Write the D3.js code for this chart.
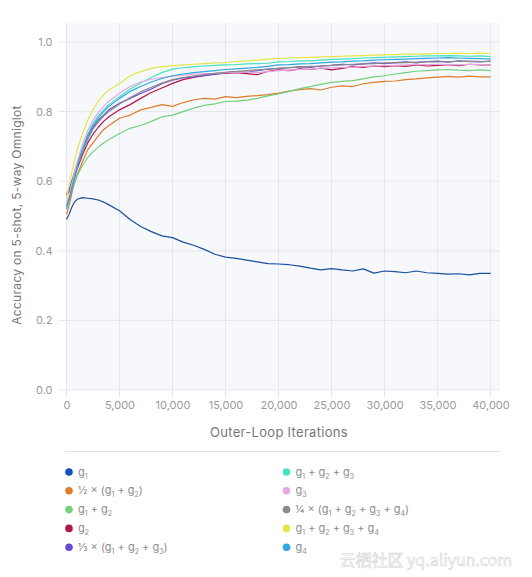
<!DOCTYPE html>
<html>
<head>
<meta charset="utf-8">
<script src="https://cdn.jsdelivr.net/npm/d3@7"></script>
<style>
  body { margin: 0; background: #fff; }
  svg { display: block; font-family: Inter, "Open Sans", sans-serif; }
</style>
</head>
<body>
<svg id="chart" width="532" height="577"></svg>
<script>
// iterations shared by every series
const iterations = [0, 250, 500, 750, 1000, 1500, 2000, 2500, 3000, 3500, 4000,
  5000, 6000, 7000, 8000, 9000, 10000, 11000, 12000, 13000, 14000, 15000, 16000,
  17000, 18000, 19000, 20000, 21000, 22000, 23000, 24000, 25000, 26000, 27000,
  28000, 29000, 30000, 31000, 32000, 33000, 34000, 35000, 36000, 37000, 38000,
  39000, 40000];

const g1 = [0.490, 0.505, 0.525, 0.540, 0.548, 0.553, 0.551, 0.549, 0.546, 0.540, 0.532,
  0.515, 0.490, 0.470, 0.455, 0.443, 0.438, 0.425, 0.416, 0.404, 0.390, 0.382, 0.378,
  0.373, 0.368, 0.363, 0.362, 0.360, 0.356, 0.350, 0.345, 0.349, 0.345, 0.342,
  0.348, 0.336, 0.342, 0.340, 0.337, 0.342, 0.337, 0.335, 0.333, 0.334, 0.331,
  0.335, 0.335];
const halfG12 = [0.505, 0.530, 0.565, 0.595, 0.618, 0.655, 0.690, 0.710, 0.730, 0.748, 0.760,
  0.781, 0.790, 0.805, 0.812, 0.820, 0.815, 0.826, 0.834, 0.838, 0.836, 0.843, 0.840,
  0.844, 0.846, 0.849, 0.853, 0.859, 0.863, 0.866, 0.862, 0.870, 0.874, 0.872,
  0.880, 0.884, 0.887, 0.888, 0.892, 0.894, 0.897, 0.899, 0.901, 0.899, 0.902,
  0.900, 0.900];
const sumG12 = [0.530, 0.550, 0.575, 0.595, 0.615, 0.645, 0.668, 0.685, 0.698, 0.710, 0.720,
  0.737, 0.752, 0.760, 0.772, 0.785, 0.790, 0.800, 0.810, 0.818, 0.822, 0.829, 0.830,
  0.833, 0.838, 0.845, 0.851, 0.858, 0.866, 0.872, 0.878, 0.884, 0.887, 0.889,
  0.894, 0.900, 0.903, 0.908, 0.912, 0.916, 0.918, 0.920, 0.921, 0.919, 0.918,
  0.920, 0.918];
const g2 = [0.565, 0.570, 0.585, 0.610, 0.635, 0.675, 0.710, 0.735, 0.755, 0.772, 0.785,
  0.805, 0.820, 0.838, 0.855, 0.868, 0.881, 0.892, 0.898, 0.904, 0.908, 0.910, 0.912,
  0.909, 0.906, 0.916, 0.920, 0.918, 0.923, 0.921, 0.925, 0.920, 0.924, 0.929,
  0.927, 0.931, 0.929, 0.932, 0.930, 0.934, 0.931, 0.933, 0.935, 0.932, 0.936,
  0.934, 0.934];
const thirdG123 = [0.560, 0.575, 0.600, 0.625, 0.650, 0.690, 0.728, 0.755, 0.775, 0.790, 0.805,
  0.824, 0.838, 0.852, 0.865, 0.880, 0.890, 0.897, 0.900, 0.903, 0.907, 0.912, 0.915,
  0.913, 0.918, 0.922, 0.924, 0.926, 0.929, 0.927, 0.931, 0.933, 0.936, 0.934,
  0.937, 0.940, 0.938, 0.941, 0.943, 0.940, 0.944, 0.945, 0.942, 0.946, 0.944,
  0.943, 0.945];
const sumG123 = [0.525, 0.550, 0.580, 0.615, 0.645, 0.695, 0.735, 0.765, 0.788, 0.805, 0.820,
  0.843, 0.865, 0.882, 0.898, 0.912, 0.922, 0.926, 0.929, 0.931, 0.933, 0.934, 0.935,
  0.937, 0.938, 0.939, 0.943, 0.944, 0.946, 0.946, 0.948, 0.950, 0.951, 0.952,
  0.954, 0.955, 0.956, 0.957, 0.958, 0.959, 0.960, 0.960, 0.961, 0.960, 0.959,
  0.960, 0.958];
const g3 = [0.540, 0.560, 0.590, 0.625, 0.655, 0.705, 0.745, 0.775, 0.797, 0.815, 0.830,
  0.853, 0.872, 0.885, 0.893, 0.898, 0.902, 0.905, 0.907, 0.909, 0.910, 0.912, 0.913,
  0.914, 0.912, 0.915, 0.918, 0.919, 0.921, 0.922, 0.924, 0.926, 0.927, 0.928,
  0.930, 0.931, 0.932, 0.933, 0.934, 0.935, 0.935, 0.936, 0.935, 0.934, 0.936,
  0.935, 0.934];
const quarterG1234 = [0.530, 0.550, 0.580, 0.610, 0.640, 0.685, 0.720, 0.750, 0.770, 0.787, 0.800,
  0.822, 0.840, 0.857, 0.870, 0.882, 0.892, 0.898, 0.902, 0.906, 0.910, 0.913, 0.915,
  0.918, 0.920, 0.922, 0.924, 0.926, 0.928, 0.930, 0.931, 0.933, 0.934, 0.936,
  0.937, 0.938, 0.940, 0.940, 0.941, 0.942, 0.943, 0.943, 0.944, 0.944, 0.945,
  0.944, 0.944];
const sumG1234 = [0.550, 0.590, 0.625, 0.660, 0.690, 0.735, 0.775, 0.805, 0.830, 0.848, 0.862,
  0.881, 0.903, 0.915, 0.924, 0.929, 0.932, 0.934, 0.936, 0.938, 0.940, 0.941, 0.944,
  0.946, 0.948, 0.951, 0.953, 0.954, 0.955, 0.956, 0.957, 0.958, 0.959, 0.960,
  0.961, 0.962, 0.963, 0.964, 0.965, 0.965, 0.966, 0.967, 0.967, 0.968, 0.967,
  0.968, 0.967];
const g4 = [0.520, 0.545, 0.575, 0.610, 0.640, 0.690, 0.730, 0.760, 0.782, 0.800, 0.815,
  0.838, 0.858, 0.872, 0.885, 0.895, 0.903, 0.908, 0.912, 0.915, 0.918, 0.921, 0.923,
  0.925, 0.927, 0.930, 0.934, 0.935, 0.937, 0.938, 0.940, 0.942, 0.943, 0.945,
  0.946, 0.948, 0.949, 0.950, 0.951, 0.952, 0.953, 0.954, 0.955, 0.954, 0.953,
  0.952, 0.951];

// legend labels, "_n" marks a subscript
const labels = ["g_1", "½ × (g_1 + g_2)", "g_1 + g_2", "g_2", "⅓ × (g_1 + g_2 + g_3)",
  "g_1 + g_2 + g_3", "g_3", "¼ × (g_1 + g_2 + g_3 + g_4)", "g_1 + g_2 + g_3 + g_4", "g_4"];
const colors = ["#1a4f9e", "#e07b2a", "#74d07c", "#b3164a", "#6a4ad2",
  "#48e2bf", "#e8a6e2", "#8a8a8a", "#e4e64a", "#2fa9e0"];
const dotColors = ["#1350bb", "#e07b2a", "#74d07c", "#b3164a", "#6a4ad2",
  "#48e2bf", "#e8a6e2", "#8a8a8a", "#e4e64a", "#2fa9e0"];
const allSeries = [g1, halfG12, sumG12, g2, thirdG123, sumG123, g3, quarterG1234, sumG1234, g4];
const xTicks = [0, 5000, 10000, 15000, 20000, 25000, 30000, 35000, 40000];
const yTicks = [0, 0.2, 0.4, 0.6, 0.8, 1.0];

const svg = d3.select("#chart");
const x = d3.scaleLinear().domain([0, 40000]).range([66.5, 490.5]);
const y = d3.scaleLinear().domain([0, 1]).range([390, 42]);

// plot background
svg.append("rect")
  .attr("x", 66.5).attr("y", 23)
  .attr("width", 500 - 66.5).attr("height", 390 - 23)
  .attr("fill", "#f6f8fb");

// grid
svg.append("g").selectAll("line").data(yTicks).join("line")
  .attr("x1", 58).attr("x2", 500)
  .attr("y1", d => y(d)).attr("y2", d => y(d))
  .attr("stroke", "#e4e7eb").attr("stroke-width", 1);
svg.append("g").selectAll("line").data(xTicks).join("line")
  .attr("x1", d => x(d)).attr("x2", d => x(d))
  .attr("y1", 23).attr("y2", 398)
  .attr("stroke", "#e4e7eb").attr("stroke-width", 1);

// axes (labels only)
const yAxis = svg.append("g")
  .attr("transform", "translate(66.5,0)")
  .call(d3.axisLeft(y).tickValues(yTicks).tickFormat(d3.format(".1f")).tickSize(0).tickPadding(14));
const xAxis = svg.append("g")
  .attr("transform", "translate(0,390)")
  .call(d3.axisBottom(x).tickValues(xTicks).tickFormat(d3.format(",")).tickSize(0).tickPadding(11));
[yAxis, xAxis].forEach(a => {
  a.select(".domain").remove();
  a.selectAll("text").attr("fill", "#9a9a9a").attr("font-size", 11)
    .attr("font-family", "Inter, 'Open Sans', sans-serif");
});

// lines
const line = d3.line()
  .x((d, i) => x(iterations[i]))
  .y(d => y(d));
svg.append("g").selectAll("path").data(allSeries).join("path")
  .attr("d", line)
  .attr("fill", "none")
  .attr("stroke", (d, i) => colors[i])
  .attr("stroke-width", 1.2)
  .attr("stroke-linejoin", "round");

// axis titles
svg.append("text")
  .attr("transform", "translate(21,215) rotate(-90)")
  .attr("text-anchor", "middle")
  .attr("fill", "#777").attr("font-size", 12)
  .attr("letter-spacing", 0.3)
  .text("Accuracy on 5-shot, 5-way Omniglot");
svg.append("text")
  .attr("x", 279).attr("y", 437)
  .attr("text-anchor", "middle")
  .attr("fill", "#777").attr("font-size", 13)
  .attr("letter-spacing", 0.3)
  .text("Outer-Loop Iterations");

// separator
svg.append("line")
  .attr("x1", 65).attr("x2", 500).attr("y1", 451.5).attr("y2", 451.5)
  .attr("stroke", "#e2e2e2");

// legend
const legend = svg.append("g").selectAll("g").data(labels).join("g")
  .attr("transform", (d, i) => {
    const col = Math.floor(i / 5), row = i % 5;
    return `translate(${col ? 286.5 : 69},${472 + row * 18.8})`;
  });
legend.append("circle").attr("r", 3.8).attr("fill", (d, i) => dotColors[i]);
legend.append("text")
  .attr("x", 9).attr("y", 3.5)
  .attr("fill", "#8e8e8e").attr("font-size", 11)
  .each(function(d) {
    const t = d3.select(this);
    let lowered = false;
    d.split(/(_\d)/).forEach(part => {
      if (!part) return;
      if (part.startsWith("_")) {
        t.append("tspan").attr("font-size", 7).attr("dy", 3).text(part.slice(1));
        lowered = true;
      } else {
        t.append("tspan").attr("dy", lowered ? -3 : 0).text(part);
        lowered = false;
      }
    });
  });

// watermark
svg.append("text")
  .attr("x", 512).attr("y", 566)
  .attr("text-anchor", "end")
  .attr("font-size", 16)
  .attr("font-family", "'Noto Sans CJK SC', sans-serif")
  .attr("fill", "#ffffff").attr("stroke", "#d4d4d4").attr("stroke-width", 0.6)
  .text("云栖社区 yq.aliyun.com");
</script>
</body>
</html>
